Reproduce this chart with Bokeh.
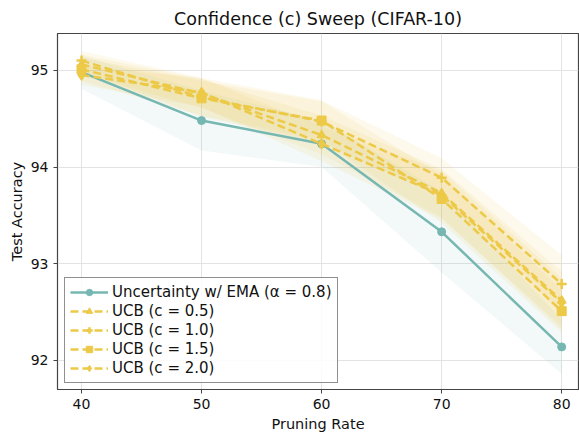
from bokeh.plotting import figure
from bokeh.embed import file_html
from bokeh.resources import INLINE
from bokeh.models import Range1d, FixedTicker, Legend, LegendItem

pruning = [40, 50, 60, 70, 80]

ema_mean = [94.98, 94.48, 94.24, 93.33, 92.14]
ema_std = [0.17, 0.31, 0.24, 0.42, 0.28]

ucb_05_mean = [95.06, 94.76, 94.33, 93.73, 92.62]
ucb_05_std = [0.10, 0.15, 0.20, 0.25, 0.30]
ucb_10_mean = [95.10, 94.72, 94.47, 93.89, 92.79]
ucb_10_std = [0.10, 0.20, 0.22, 0.20, 0.30]
ucb_15_mean = [95.01, 94.71, 94.48, 93.67, 92.51]
ucb_15_std = [0.12, 0.18, 0.20, 0.25, 0.22]
ucb_20_mean = [94.95, 94.77, 94.24, 93.71, 92.60]
ucb_20_std = [0.10, 0.15, 0.18, 0.25, 0.25]

x_ticks = [40, 50, 60, 70, 80]
y_ticks = [92, 93, 94, 95]

TEAL = "#76b7b2"
YELLOW = "#edc948"
FONT = "DejaVu Sans"

p = figure(width=579, height=434, output_backend="svg", toolbar_location=None,
           x_range=Range1d(38.0, 81.4), y_range=Range1d(91.70, 95.38),
           title="Confidence (c) Sweep (CIFAR-10)",
           x_axis_label="Pruning Rate", y_axis_label="Test Accuracy",
           min_border_left=57, min_border_right=1, min_border_top=33, min_border_bottom=44)

p.title.align = "center"
p.title.text_font = FONT
p.title.text_font_size = "17.5px"
p.title.text_font_style = "normal"
p.title.text_color = "#111111"

p.outline_line_color = "#444444"
p.outline_line_width = 1.2

for ax in (p.xaxis[0], p.yaxis[0]):
    ax.axis_label_text_font = FONT
    ax.axis_label_text_font_size = "14.5px"
    ax.axis_label_text_font_style = "normal"
    ax.axis_label_text_color = "#111111"
    ax.major_label_text_font = FONT
    ax.major_label_text_font_size = "14px"
    ax.major_label_text_color = "#111111"
    ax.minor_tick_line_color = None
    ax.major_tick_in = 0
    ax.major_tick_out = 4
    ax.axis_line_color = "#444444"
    ax.major_tick_line_color = "#444444"
p.xaxis[0].ticker = FixedTicker(ticks=x_ticks)
p.yaxis[0].ticker = FixedTicker(ticks=y_ticks)
p.xaxis[0].axis_label_standoff = 4
p.yaxis[0].axis_label_standoff = 3

p.grid.grid_line_color = "#e3e3e3"
p.grid.grid_line_width = 1

# bands
def band(mean, std, color, alpha):
    lo = [m - s for m, s in zip(mean, std)]
    hi = [m + s for m, s in zip(mean, std)]
    p.varea(x=pruning, y1=lo, y2=hi, fill_color=color, fill_alpha=alpha)

band(ema_mean, ema_std, TEAL, 0.09)
for m, s in [(ucb_05_mean, ucb_05_std), (ucb_10_mean, ucb_10_std),
             (ucb_15_mean, ucb_15_std), (ucb_20_mean, ucb_20_std)]:
    band(m, s, YELLOW, 0.1)

items = []
l = p.line(pruning, ema_mean, line_color=TEAL, line_width=2.5)
s = p.scatter(pruning, ema_mean, marker="circle", size=8, fill_color=TEAL, line_color=TEAL)
items.append(LegendItem(label="Uncertainty w/ EMA (α = 0.8)", renderers=[l, s]))

series = [
    ("UCB (c = 0.5)", ucb_05_mean, "triangle", 9),
    ("UCB (c = 1.0)", ucb_10_mean, "cross", 10),
    ("UCB (c = 1.5)", ucb_15_mean, "square", 9),
    ("UCB (c = 2.0)", ucb_20_mean, "diamond", 11),
]
for label, mean, marker, size in series:
    l = p.line(pruning, mean, line_color=YELLOW, line_width=2.5, line_dash="8 4")
    s = p.scatter(pruning, mean, marker=marker, size=size, fill_color=YELLOW,
                  line_color=YELLOW, line_width=2.5 if marker == "cross" else 1)
    items.append(LegendItem(label=label, renderers=[l, s]))

legend = Legend(items=items, location=(7, 6))
legend.label_text_font = FONT
legend.label_text_font_size = "15px"
legend.label_text_color = "#111111"
legend.border_line_color = "#222222"
legend.border_line_width = 1
legend.background_fill_alpha = 0.85
legend.glyph_width = 38
legend.glyph_height = 16
legend.label_height = 16
legend.spacing = 1
legend.padding = 5
legend.margin = 0
legend.label_standoff = 4
p.add_layout(legend, "center")

open("out.html", "w").write(file_html(p, INLINE))
